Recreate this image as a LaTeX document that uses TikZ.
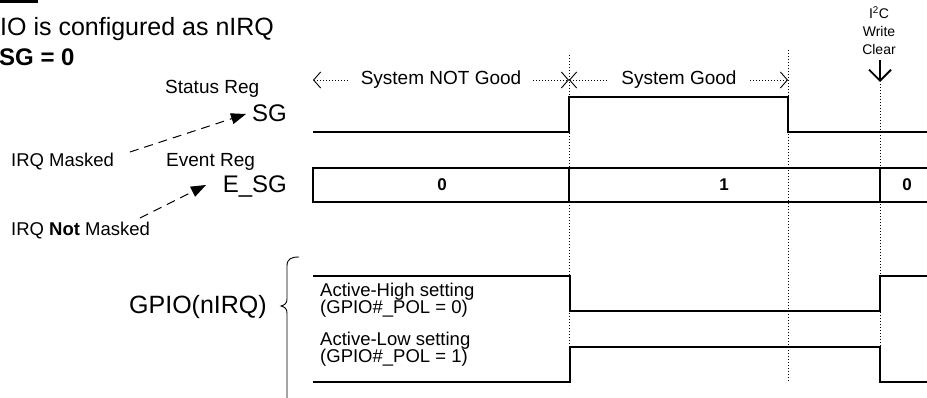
\documentclass[tikz,border=0pt]{standalone}
\usepackage{fontspec}
\setmainfont{Liberation Sans}
\usepackage{graphicx}
\usetikzlibrary{arrows.meta}
\newcommand\fsz[1]{\fontsize{#1}{#1}\selectfont}
\begin{document}
\begin{tikzpicture}[x=1pt,y=-1pt,
  txt/.style={inner sep=0pt},
  sig/.style={line width=2pt, line join=miter},
  vdot/.style={line width=1pt, dash pattern=on 1pt off 2pt},
  dimarr/.style={line width=0.9pt, dash pattern=on 1pt off 2pt,
     {Straight Barb[length=7pt,width=16pt,line width=0.9pt]}-{Straight Barb[length=7pt,width=16pt,line width=0.9pt]}},
  dasharr/.style={line width=1pt, dash pattern=on 9pt off 6pt,
     -{Triangle[length=15pt,width=11pt]}},
  downarr/.style={line width=1.8pt, -{Straight Barb[length=11pt,width=22pt,line width=1.8pt]}},
  lbl/.style={fill=white, inner xsep=12pt, inner ysep=1pt}
]
\useasboundingbox (0,0) rectangle (927,398);
\fill[white] (0,0) rectangle (927,398);

% top-left header
\draw[line width=2.6pt] (0,1.3) -- (38,1.3);
\node[txt, anchor=base west] (hdr1) at (0,36) {\fsz{25}IO is configured as nIRQ};
\node[txt, anchor=base west] (hdr2) at (-1,66) {\fsz{24}\bfseries SG = 0};

% register labels
\node[txt, anchor=base west] (streg) at (165,94) {\fsz{19}Status Reg};
\node[txt, anchor=base east] (sg) at (287,122) {\fsz{24}SG};
\node[txt, anchor=base west] (evreg) at (166,167) {\fsz{19}Event Reg};
\node[txt, anchor=base east] (esg) at (287,193) {\fsz{24}E\_SG};
\node[txt, anchor=base west] (imask) at (11,167) {\fsz{18.5}IRQ Masked};
\node[txt, anchor=base west] (inot) at (11,236) {\fsz{18.5}IRQ \textbf{Not} Masked};
\node[txt, anchor=base west] (gpio) at (129,313) {\fsz{25}GPIO(nIRQ)};

% dashed arrows
\coordinate (a1s) at (130,152);
\coordinate (a1e) at (246,114);
\coordinate (a2s) at (140,218);
\coordinate (a2e) at (206,185);
\draw[dasharr] (a1s) -- (a1e);
\draw[dasharr] (a2s) -- (a2e);

% vertical dotted lines
\coordinate (v1t) at (569,55);  \coordinate (v1b) at (569,385);
\coordinate (v2t) at (788,50);  \coordinate (v2b) at (788,381);
\coordinate (v3t) at (880,84);  \coordinate (v3b) at (880,347);
\draw[vdot] (v1t) -- (v1b);
\draw[vdot] (v2t) -- (v2b);
\draw[vdot] (v3t) -- (v3b);

% dimension arrows
\coordinate (d1) at (313,80);
\coordinate (d2) at (569,80);
\coordinate (d3) at (788,80);
\draw[dimarr] (d1) -- (d2);
\draw[dimarr] (d2) -- (d3);
\node[lbl, anchor=base] (nsg) at (441,85) {\fsz{19}System NOT Good};
\node[lbl, anchor=base] (sgood) at (679,85) {\fsz{19}System Good};

% I2C write clear
\node[txt, align=center, anchor=south, font={\fontsize{14}{18}\selectfont}] (i2c) at (879,55) {I\textsuperscript{2}C\\Write\\Clear};
\coordinate (dat) at (880,60);
\coordinate (dab) at (880,82);
\draw[downarr] (dat) -- (dab);

% SG signal
\draw[sig] (313,132) -- (569,132) -- (569,97) -- (788,97) -- (788,132) -- (930,132);

% E_SG box
\draw[sig] (930,168) -- (313,168) -- (313,202) -- (930,202);
\draw[sig] (569,168) -- (569,202);
\draw[sig] (880,168) -- (880,202);
\node[txt] (b0) at (442,185) {\fsz{17}\bfseries 0};
\node[txt] (b1) at (724,185) {\fsz{17}\bfseries 1};
\node[txt] (b2) at (907,185) {\fsz{17}\bfseries 0};

% brace
\draw[line width=0.9pt] (299,257) .. controls (291,257) and (287,259) .. (287,266) -- (287,299)
   .. controls (287,303) and (285,305) .. (281,306)
   .. controls (285,307) and (287,309) .. (287,313) -- (287,400);

% GPIO signals
\draw[sig] (313,276) -- (570,276) -- (570,311) -- (880,311) -- (880,276) -- (930,276);
\draw[sig] (313,382) -- (570,382) -- (570,347) -- (880,347) -- (880,382) -- (930,382);
\node[txt, anchor=base west] (ah1) at (320,297) {\fsz{18.5}Active-High setting};
\node[txt, anchor=base west] (ah2) at (320,314) {\fsz{18.5}(GPIO\#\_POL = 0)};
\node[txt, anchor=base west] (al1) at (320,345) {\fsz{18.5}Active-Low setting};
\node[txt, anchor=base west] (al2) at (320,362) {\fsz{18.5}(GPIO\#\_POL = 1)};
\end{tikzpicture}
\end{document}
